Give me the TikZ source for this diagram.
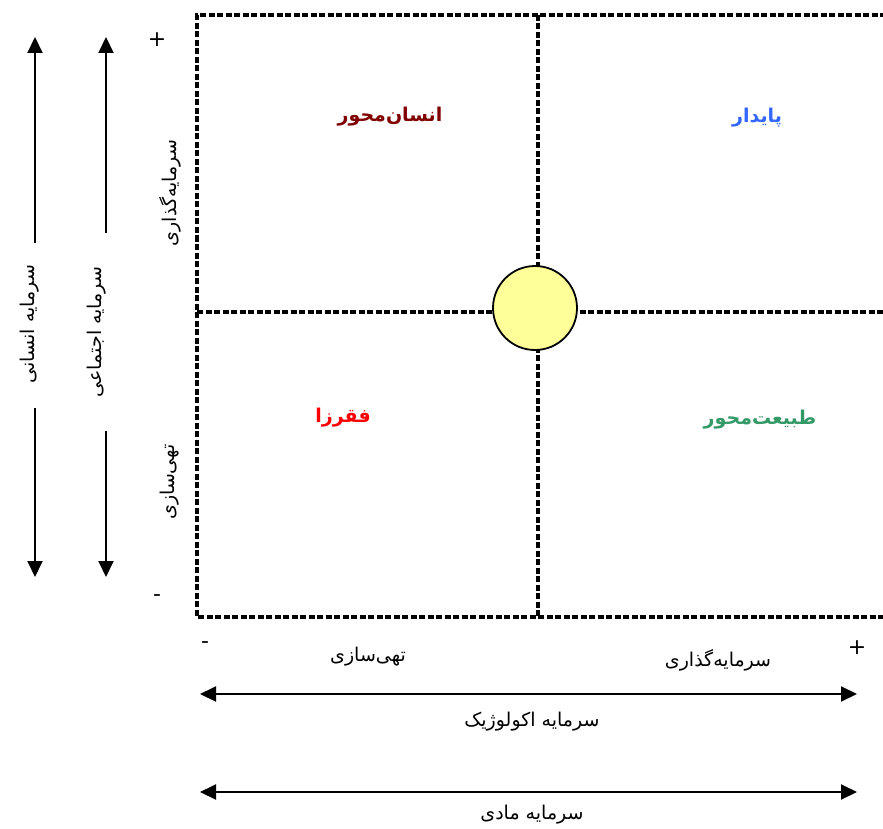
\documentclass[tikz,border=0pt]{standalone}
\usepackage{fontspec}
\usepackage{xcolor}
\newfontfamily\fafont[Script=Arabic]{DejaVu Sans}
\newfontfamily\signfont{DejaVu Sans}
\TeXXeTstate=1
\usetikzlibrary{arrows.meta,positioning}
\definecolor{humred}{HTML}{800000}
\definecolor{sustblue}{HTML}{3366FF}
\definecolor{povred}{HTML}{FF0000}
\definecolor{natgreen}{HTML}{339966}
\definecolor{hubyellow}{HTML}{FFFF99}
\newcommand{\fa}[1]{\beginR #1\endR}

\begin{document}
\begin{tikzpicture}[
 x=1pt,y=-1pt,
 grid/.style={line width=3.2pt,dash pattern=on 6pt off 2.5pt},
 axis/.style={line width=2pt,-{Triangle[width=15pt,length=16pt]}},
 both/.style={line width=2pt,{Triangle[width=15pt,length=16pt]}-{Triangle[width=15pt,length=16pt]}},
 lbl/.style={font=\fontsize{19}{22}\selectfont\fafont,inner sep=0pt},
 quad/.style={font=\fontsize{19}{22}\selectfont\fafont\bfseries,inner sep=0pt},
 sign/.style={font=\fontsize{22}{24}\selectfont\signfont,inner sep=0pt}
]
\useasboundingbox (0,0) rectangle (883,829);

% quadrant grid
\draw[grid] (886,15) -- (197,15) -- (197,617) -- (886,617);
\draw[grid] (538,15) -- (538,617);
\draw[grid] (197,312) -- (886,312);
\node[circle,draw,line width=1.8pt,fill=hubyellow,minimum size=84pt,inner sep=0pt] (hub) at (535,308) {};

% quadrant names
\node[quad,text=humred] (humanq) at (390,117) {\fa{انسان^^^^200cمحور}};
\node[quad,text=sustblue] (sustq) at (757,118) {\fa{پایدار}};
\node[quad,text=povred] (povq) at (343,418) {\fa{فقرزا}};
\node[quad,text=natgreen] (natq) at (760,420) {\fa{طبیعت^^^^200cمحور}};

% vertical axes
\node[lbl,rotate=90] (humcap) at (30,324) {\fa{سرمایه انسانی}};
\node[lbl,rotate=90] (soccap) at (97,332) {\fa{سرمایه اجتماعی}};
\coordinate (humtop) at (35,37);
\coordinate (humbot) at (35,577);
\coordinate (soctop) at (106,37);
\coordinate (socbot) at (106,577);
\draw[axis] (35,243) -- (humtop);
\draw[axis] (35,408) -- (humbot);
\draw[axis] (106,233) -- (soctop);
\draw[axis] (106,431) -- (socbot);
\node[lbl,rotate=90] (vinvest) at (170,193) {\fa{سرمایه^^^^200cگذاری}};
\node[lbl,rotate=90] (vdeplete) at (170,482) {\fa{تهی^^^^200cسازی}};
\node[sign] (vplus) at (157,40) {+};
\node[sign] (vminus) at (157,598) {-};

% horizontal axes
\node[sign] (hminus) at (205,645) {-};
\node[sign] (hplus) at (857,648) {+};
\node[lbl] (hdeplete) at (368,657) {\fa{تهی^^^^200cسازی}};
\node[lbl] (hinvest) at (718,660) {\fa{سرمایه^^^^200cگذاری}};
\coordinate (ecoL) at (200,694);
\coordinate (ecoR) at (857,694);
\draw[both] (ecoL) -- (ecoR);
\node[lbl] (ecocap) at (532,722) {\fa{سرمایه اکولوژیک}};
\coordinate (matL) at (200,792);
\coordinate (matR) at (857,792);
\draw[both] (matL) -- (matR);
\node[lbl] (matcap) at (532,815) {\fa{سرمایه مادی}};
\end{tikzpicture}
\end{document}
